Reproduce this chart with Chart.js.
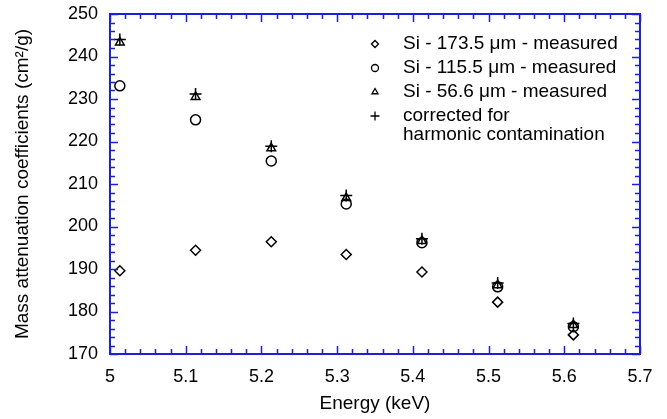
<!DOCTYPE html>
<html>
<head>
<meta charset="utf-8">
<script src="https://cdn.jsdelivr.net/npm/chart.js@4.4.0/dist/chart.umd.min.js"></script>
<style>
  html, body { margin: 0; padding: 0; background: #fff; }
  #wrap { width: 667px; height: 419px; position: relative; }
</style>
</head>
<body>
<div id="wrap"><canvas id="chart"></canvas></div>
<script>
// values
const energy = [5.013, 5.113, 5.213, 5.312, 5.412, 5.512, 5.612];
const si173 = [189.6, 194.4, 196.4, 193.4, 189.3, 182.2, 174.5];
const si115 = [233.1, 225.1, 215.4, 205.3, 196.2, 185.8, 176.4];
const si56 = [243.3, 230.5, 218.4, 206.7, 196.6, 186.2, 176.8];
const corrected = [244.0, 231.2, 218.9, 207.3, 197.1, 186.7, 177.2];

const seriesLabels = [
  'Si - 173.5 \u03bcm - measured',
  'Si - 115.5 \u03bcm - measured',
  'Si - 56.6 \u03bcm - measured',
  'corrected for\nharmonic contamination'
];
const seriesStyles = ['rectRot', 'circle', 'triangle', 'cross'];

const xTicks = [5, 5.1, 5.2, 5.3, 5.4, 5.5, 5.6, 5.7];
const yTicks = [170, 180, 190, 200, 210, 220, 230, 240, 250];
const xMinorStep = 0.02;
const yMinorStep = 2;

const FONT = 'Liberation Sans, Arial, Helvetica, sans-serif';
const BLUE = 'rgb(30,30,225)';

function pts(ys) {
  return energy.map((x, i) => ({ x: x, y: ys[i] }));
}

const allSeries = [si173, si115, si56, corrected];
const datasets = allSeries.map((ys, i) => ({
  label: seriesLabels[i],
  data: pts(ys),
  pointStyle: seriesStyles[i],
  pointRadius: seriesStyles[i] === 'cross' ? 6 : 5,
  pointBorderWidth: 1.5,
  pointBorderColor: '#000',
  pointBackgroundColor: 'rgba(0,0,0,0)',
  showLine: false
}));

// blue frame with inward major/minor ticks on all four sides
const frameTicks = {
  id: 'frameTicks',
  afterDraw(chart) {
    const { ctx, chartArea: a, scales } = chart;
    const xs = scales.x, ys = scales.y;
    ctx.save();
    ctx.strokeStyle = BLUE;
    ctx.lineWidth = 1.5;
    ctx.beginPath();
    const majX = 8, minX = 5;
    let n = Math.round((xs.max - xs.min) / xMinorStep);
    for (let i = 0; i <= n; i++) {
      const v = xs.min + i * xMinorStep;
      const px = Math.round(xs.getPixelForValue(v)) + 0.5;
      const len = (i % 5 === 0) ? majX : minX;
      ctx.moveTo(px, a.bottom); ctx.lineTo(px, a.bottom - len);
      ctx.moveTo(px, a.top); ctx.lineTo(px, a.top + len);
    }
    n = Math.round((ys.max - ys.min) / yMinorStep);
    for (let i = 0; i <= n; i++) {
      const v = ys.min + i * yMinorStep;
      const py = Math.round(ys.getPixelForValue(v)) + 0.5;
      const len = (i % 5 === 0) ? majX : minX;
      ctx.moveTo(a.left, py); ctx.lineTo(a.left + len, py);
      ctx.moveTo(a.right, py); ctx.lineTo(a.right - len, py);
    }
    ctx.stroke();
    ctx.lineWidth = 2;
    ctx.strokeRect(a.left, a.top, a.right - a.left, a.bottom - a.top);
    ctx.restore();
  }
};

// legend inside the plot, top right
const innerLegend = {
  id: 'innerLegend',
  afterDraw(chart) {
    const { ctx, chartArea: a } = chart;
    ctx.save();
    ctx.font = '19px ' + FONT;
    ctx.textBaseline = 'middle';
    const mx = a.left + 265, tx = a.left + 293;
    let y = a.top + 30;
    chart.data.datasets.forEach(ds => {
      ctx.strokeStyle = '#000';
      ctx.fillStyle = 'rgba(0,0,0,0)';
      ctx.lineWidth = 1.3;
      Chart.helpers.drawPoint(ctx, {
        pointStyle: ds.pointStyle,
        radius: ds.pointStyle === 'cross' ? 4.5 : 3.5,
        rotation: 0,
        borderWidth: 1.3
      }, mx, y);
      ctx.fillStyle = '#000';
      const lines = ds.label.split('\n');
      lines.forEach((ln, j) => ctx.fillText(ln, tx, y + j * 19));
      y += 24;
    });
    ctx.restore();
  }
};

new Chart(document.getElementById('chart'), {
  type: 'scatter',
  data: { datasets: datasets },
  plugins: [frameTicks, innerLegend],
  options: {
    responsive: true,
    maintainAspectRatio: false,
    animation: false,
    layout: { padding: { top: 14, right: 27, left: 0, bottom: 0 } },
    plugins: { legend: { display: false }, tooltip: { enabled: false } },
    scales: {
      x: {
        type: 'linear',
        min: 5, max: 5.7,
        afterBuildTicks: s => { s.ticks = xTicks.map(v => ({ value: v })); },
        afterFit: s => { s.height = 65; s.paddingLeft = 0; s.paddingRight = 0; },
        grid: { display: false, drawTicks: false },
        border: { display: false },
        ticks: {
          padding: 12,
          color: '#000',
          font: { family: FONT, size: 18 },
          callback: v => String(+v.toFixed(2))
        },
        title: {
          display: true,
          text: 'Energy (keV)',
          color: '#000',
          font: { family: FONT, size: 19 },
          padding: { top: 4, bottom: 4 }
        }
      },
      y: {
        type: 'linear',
        min: 170, max: 250,
        afterBuildTicks: s => { s.ticks = yTicks.map(v => ({ value: v })); },
        afterFit: s => { s.width = 110; s.paddingTop = 0; s.paddingBottom = 0; },
        grid: { display: false, drawTicks: false },
        border: { display: false },
        ticks: {
          padding: 12,
          color: '#000',
          font: { family: FONT, size: 18 },
          callback: v => String(v)
        },
        title: {
          display: true,
          text: 'Mass attenuation coefficients (cm\u00b2/g)',
          color: '#000',
          font: { family: FONT, size: 19 },
          padding: { top: 11, bottom: 0 }
        }
      }
    }
  }
});
</script>
</body>
</html>
